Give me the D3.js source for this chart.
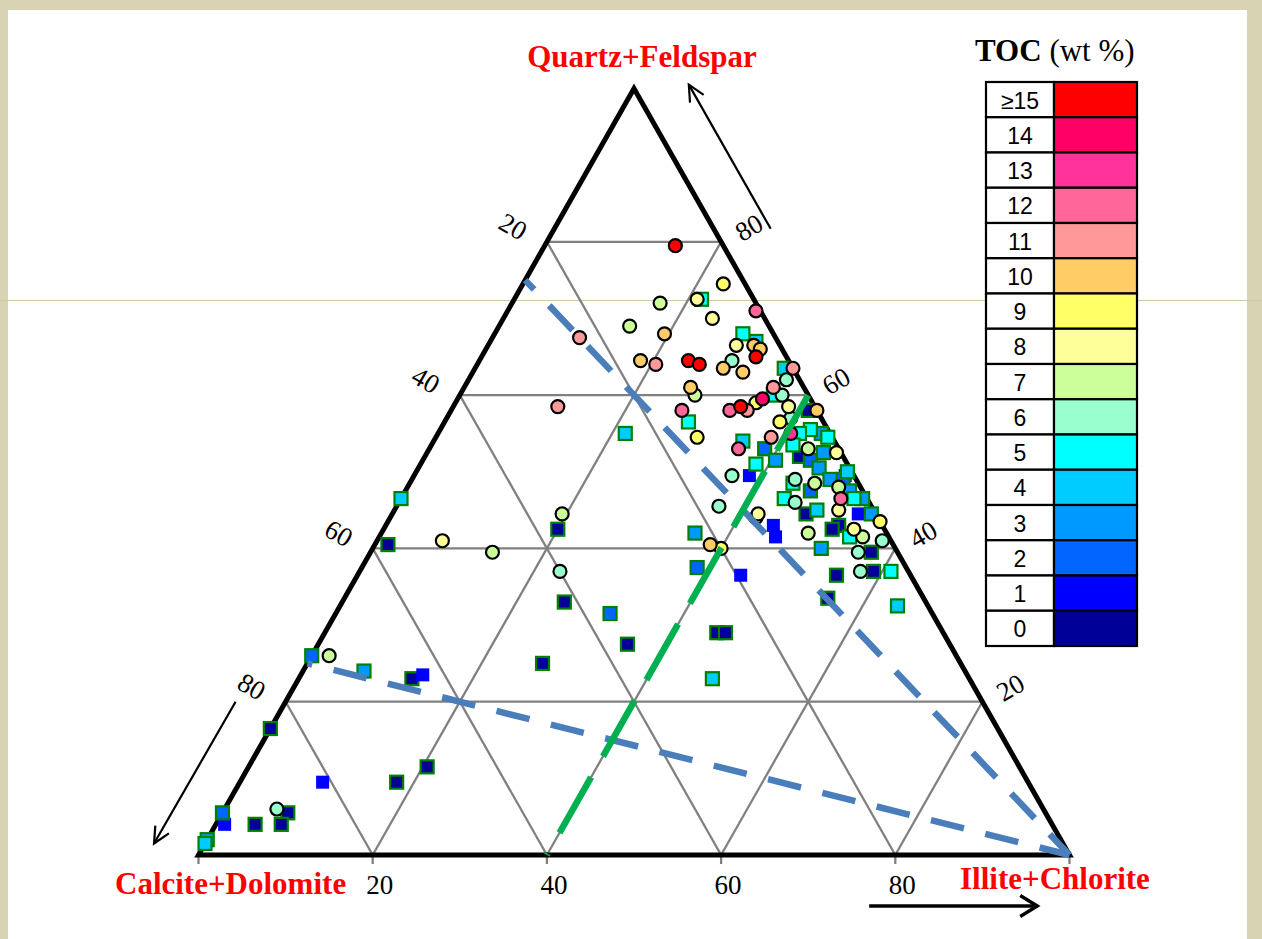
<!DOCTYPE html>
<html>
<head>
<meta charset="utf-8">
<script src="https://cdn.jsdelivr.net/npm/d3@7"></script>
<style>
  html, body { margin: 0; padding: 0; background: #d7d3b3; }
  svg { display: block; }
</style>
</head>
<body>
<svg id="chart" width="1262" height="939"></svg>
<script>
// ---- Sample compositions: [quartz+feldspar, calcite+dolomite, illite+chlorite, TOC wt%] ----
// Circle-symbol samples
const circleSamples = [
  [79.5, 5.5, 15, 15], [74.5, 2.5, 23, 9], [72.5, 6.5, 21, 8], [70, 6, 24, 8],
  [72, 11, 17, 7], [69, 16, 15, 7], [68, 12.5, 19.5, 10], [71, 0.5, 28.5, 12],
  [67.5, 22.5, 10, 11], [66.5, 5, 28.5, 8], [66.5, 3, 30.5, 10], [66, 2.5, 31.5, 10],
  [65, 3.5, 31.5, 15], [64.5, 11.5, 24, 15], [64, 10.5, 25.5, 15], [64.5, 17, 18.5, 10],
  [64, 15.5, 20.5, 11], [64.5, 6.5, 29, 6], [63.5, 8, 28.5, 10], [63, 6, 31, 10],
  [63.5, 0, 36.5, 11], [62, 1.5, 36.5, 6], [61, 13, 26, 10], [60, 13, 27, 7],
  [61, 3.5, 35.5, 11], [60, 3, 37, 6], [58.5, 3, 38.5, 8], [59, 6.5, 34.5, 9],
  [59.5, 5.5, 35, 14], [58, 10, 32, 12], [58.5, 8.5, 33, 15], [58, 8, 34, 11],
  [58, 15.5, 26.5, 12], [58.5, 29.5, 12, 11], [54.5, 15.5, 30, 9], [56.5, 5, 38.5, 9],
  [54.5, 7, 38.5, 11], [55, 4.5, 40.5, 13], [58, 0, 42, 10], [57, 3.5, 39.5, 6],
  [53, 11.5, 35.5, 12], [53, 3.5, 43.5, 7], [52.5, 0.5, 47, 8], [49, 7, 44, 6],
  [48.5, 5, 46.5, 7], [48, 2.5, 49.5, 7], [46, 8.5, 45.5, 6], [46.5, 3, 50.5, 12],
  [45, 4, 51, 8], [43.5, 0, 56.5, 9], [42.5, 3.5, 54, 8], [42, 9, 49, 7],
  [41.5, 3, 55.5, 7], [41, 1, 58, 6], [39.5, 4.5, 56, 6], [37, 5.5, 57.5, 6],
  [49.5, 14, 36.5, 6], [45.5, 17.5, 37, 6], [44, 14, 42, 7], [44.5, 13.5, 42, 8],
  [40.5, 21, 38.5, 10], [40, 20, 40, 9], [44.5, 36, 19.5, 7], [41, 51.5, 7.5, 8],
  [39.5, 46.5, 14, 7], [37, 40, 23, 6], [26, 72, 2, 7], [6, 88, 6, 6]
];

// Square-symbol samples
const squareSamples = [
  [72.5, 6, 21.5, 5], [68, 3.5, 28.5, 5], [67, 2.5, 30.5, 4], [63.5, 1, 35.5, 4],
  [60, 4, 36, 5], [56.5, 15.5, 28, 5], [58, 1, 41, 0], [54, 10.5, 35.5, 4],
  [53, 8.5, 38.5, 2], [51.5, 8, 40.5, 3], [51, 10.5, 38.5, 5], [49.5, 12, 38.5, 1],
  [55.5, 2, 42.5, 5], [55, 1, 44, 3], [54.5, 0.5, 45, 5], [55, 3.5, 41.5, 5],
  [53.5, 5, 41.5, 5], [52.5, 2, 45.5, 3], [52, 5, 43, 0], [51.5, 4, 44.5, 2],
  [50.5, 3.5, 46, 3], [50, 0.5, 49.5, 4], [49.5, 1, 49.5, 1], [48.5, 7.5, 44, 5],
  [49, 3, 48, 3], [49, 1.5, 49.5, 2], [47.5, 6, 46.5, 2], [46.5, 9.5, 44, 5],
  [46.5, 1.5, 52, 5], [46.5, 0.5, 53, 3], [47.5, 1.5, 51, 3], [45, 6.5, 48.5, 4],
  [44.5, 8, 47.5, 0], [44.5, 2, 53.5, 1], [44.5, 0.5, 55, 3], [43, 5, 52, 0],
  [42.5, 6, 51.5, 0], [41.5, 4.5, 54, 5], [39.5, 3, 57.5, 0], [40, 8.5, 51.5, 3],
  [37, 4, 59, 0], [37, 2, 61, 5], [36.5, 8.5, 55, 0], [33.5, 11, 55.5, 0],
  [32.5, 3.5, 64, 4], [43, 12.5, 44.5, 1], [41.5, 13, 45.5, 1], [36.5, 19.5, 44, 1],
  [55, 23.5, 21.5, 4], [46.5, 53.5, 0, 4], [42.5, 37.5, 20, 0], [40.5, 58, 1.5, 0],
  [33, 41.5, 25.5, 0], [31.5, 37, 31.5, 2], [27.5, 37, 35.5, 0], [25, 48, 27, 0],
  [42, 22, 36, 3], [37.5, 24, 38.5, 2], [29, 26, 45, 0], [29, 25, 46, 0],
  [23, 29.5, 47.5, 4], [26, 74, 0, 2], [24, 69, 7, 3], [23, 64, 13, 0],
  [23.5, 62.5, 14, 1], [16.5, 83.5, 0, 0], [9.5, 81, 9.5, 1], [9.5, 72.5, 18, 0],
  [11.5, 68, 20.5, 0], [5.5, 94.5, 0, 2], [4, 95, 1, 1], [4, 91.5, 4.5, 0],
  [5.5, 87, 7.5, 0], [4, 88.5, 7.5, 0], [1.5, 98.5, 0, 4], [2, 98, 0, 3]
];

// ---- TOC classes (ascending) ----
const tocLabels = ["0", "1", "2", "3", "4", "5", "6", "7", "8", "9", "10", "11", "12", "13", "14", "\u226515"];
const tocColors = ["#000099", "#0000FF", "#0066FF", "#0099FF", "#00CCFF", "#00FFFF", "#99FFCC", "#CCFF99",
                   "#FFFF99", "#FFFF66", "#FFCC66", "#FF9999", "#FF6699", "#FF3399", "#FF0066", "#FF0000"];
const tocBreaks = [1, 2, 3, 4, 5, 6, 7, 8, 9, 10, 11, 12, 13, 14, 15];

// ---- Axis ticks and titles ----
const gridValues = [20, 40, 60, 80];
const baseTicks = [0, 20, 40, 60, 80, 100];
const apexTitles = { top: "Quartz+Feldspar", left: "Calcite+Dolomite", right: "Illite+Chlorite" };

// ---- Guide lines (ternary end points as [quartz+feldspar, illite+chlorite]) ----
const qfCarbRatioLines = [
  { from: [75, 0], to: [0, 100], offset: 21 },
  { from: [25, 0], to: [0, 100], offset: 29 }
];
const clayLine = { from: [0, 40], to: [60, 40], offset: 62.5 };

const W = 1262, H = 939;
const svg = d3.select("#chart");

// Ternary projection: bottom edge = illite+chlorite (0 -> 100), apex = quartz+feldspar
const xScale = d3.scaleLinear().domain([0, 100]).range([198.5, 1069.5]);
const yScale = d3.scaleLinear().domain([0, 100]).range([855, 88.5]);
const pt = (qf, clay) => [xScale(clay + qf / 2), yScale(qf)];
const tocColor = d3.scaleThreshold().domain(tocBreaks).range(tocColors);

// Slide background
svg.append("rect").attr("width", W).attr("height", H).attr("fill", "#d7d3b3");
svg.append("rect").attr("x", 8).attr("y", 10).attr("width", 1239).attr("height", 929).attr("fill", "#ffffff");
svg.append("line").attr("x1", 0).attr("x2", W).attr("y1", 300.5).attr("y2", 300.5)
  .attr("stroke", "#cdc9a6").attr("stroke-width", 1);

const line = d3.line();

// Grid
const gridG = svg.append("g").attr("stroke", "#808080").attr("stroke-width", 2.3).attr("fill", "none");
gridValues.forEach(v => {
  gridG.append("path").attr("d", line([pt(v, 0), pt(v, 100 - v)]));
  gridG.append("path").attr("d", line([pt(0, v), pt(100 - v, v)]));
  gridG.append("path").attr("d", line([pt(0, 100 - v), pt(100 - v, 0)]));
});
// Base ticks
baseTicks.forEach(v => {
  gridG.append("path").attr("d", line([[xScale(v), yScale(0)], [xScale(v), yScale(0) + 9]]));
});

// Triangle outline
svg.append("path")
  .attr("d", line([pt(100, 0), pt(0, 0), pt(0, 100)]) + "Z")
  .attr("fill", "none").attr("stroke", "#000").attr("stroke-width", 5);

// Square samples (drawn in ascending TOC)
const sq = 13;
svg.append("g").selectAll("rect")
  .data(d3.sort(squareSamples, d => d[3]))
  .join("rect")
  .attr("x", d => pt(d[0], d[2])[0] - sq / 2)
  .attr("y", d => pt(d[0], d[2])[1] - sq / 2)
  .attr("width", sq).attr("height", sq)
  .attr("fill", d => tocColor(d[3]))
  .attr("stroke", d => d[3] >= 1 && d[3] < 2 ? "none" : "#008000")
  .attr("stroke-width", 2.2);

// Circle samples (drawn in ascending TOC)
svg.append("g").selectAll("circle")
  .data(d3.sort(circleSamples, d => d[3]))
  .join("circle")
  .attr("cx", d => pt(d[0], d[2])[0])
  .attr("cy", d => pt(d[0], d[2])[1])
  .attr("r", 6.5)
  .attr("fill", d => tocColor(d[3]))
  .attr("stroke", "#000").attr("stroke-width", 2.2);

// Dashed guide lines
qfCarbRatioLines.forEach(g => {
  svg.append("path")
    .attr("d", line([pt(...g.from), pt(...g.to)]))
    .attr("fill", "none").attr("stroke", "#4a7ebb").attr("stroke-width", 6.5)
    .attr("stroke-dasharray", "34 22").attr("stroke-dashoffset", g.offset);
});
svg.append("path")
  .attr("d", line([pt(...clayLine.from), pt(...clayLine.to)]))
  .attr("fill", "none").attr("stroke", "#00b050").attr("stroke-width", 6.5)
  .attr("stroke-dasharray", "64 24").attr("stroke-dashoffset", clayLine.offset);

// Tick labels
const serif = "'Liberation Serif', 'Times New Roman', serif";
const tickG = svg.append("g").attr("font-family", serif).attr("font-size", 27).attr("fill", "#000")
  .attr("text-anchor", "middle").attr("dominant-baseline", "central");
gridValues.forEach(v => {
  // calcite+dolomite along left edge
  const [lx, ly] = pt(100 - v, 0);
  tickG.append("text").attr("transform", `translate(${lx - 34},${ly - 15}) rotate(30)`).text(v);
  // quartz+feldspar along right edge
  const [rx, ry] = pt(v, 100 - v);
  tickG.append("text").attr("transform", `translate(${rx + 28},${ry - 14}) rotate(-30)`).text(v);
  // illite+chlorite along base
  tickG.append("text").attr("x", xScale(v) + 7).attr("y", yScale(0) + 30).text(v);
});

// Apex titles
const titleG = svg.append("g").attr("font-family", serif).attr("font-size", 31)
  .attr("font-weight", "bold").attr("fill", "#ff0000");
titleG.append("text").attr("x", 642).attr("y", 67).attr("text-anchor", "middle").text(apexTitles.top);
titleG.append("text").attr("x", 115).attr("y", 894).text(apexTitles.left);
titleG.append("text").attr("x", 960).attr("y", 889).text(apexTitles.right);

// Direction arrows
function arrow(p0, p1, width, headLen, headAng) {
  const a = Math.atan2(p1[1] - p0[1], p1[0] - p0[0]);
  const h1 = [p1[0] - headLen * Math.cos(a - headAng), p1[1] - headLen * Math.sin(a - headAng)];
  const h2 = [p1[0] - headLen * Math.cos(a + headAng), p1[1] - headLen * Math.sin(a + headAng)];
  const g = svg.append("g").attr("fill", "none").attr("stroke", "#000").attr("stroke-width", width);
  g.append("path").attr("d", line([p0, p1]));
  g.append("path").attr("d", line([h1, p1, h2]));
}
const shift = (p, dx, dy) => [p[0] + dx, p[1] + dy];
arrow(shift(pt(81.7, 18.3), 57, 0), shift(pt(100.5, -0.5), 57, 0), 2.2, 18, 0.45);
arrow(shift(pt(20, 0), -50, 0), shift(pt(1.5, 0), -51, 0), 2.2, 18, 0.45);
arrow([xScale(77), yScale(0) + 51], [xScale(96.3), yScale(0) + 51], 3.4, 20, 0.55);

// Legend
const lg = svg.append("g");
lg.append("text").attr("x", 975).attr("y", 61).attr("font-family", serif).attr("font-size", 31)
  .call(t => {
    t.append("tspan").attr("font-weight", "bold").text("TOC");
    t.append("tspan").text(" (wt %)");
  });
const legX = 986, legMid = 1054, legR = 1137, legTop = 82, rowH = 35.25;
const rows = d3.range(tocLabels.length).reverse();
rows.forEach((k, i) => {
  const y = legTop + i * rowH;
  lg.append("rect").attr("x", legX).attr("y", y).attr("width", legMid - legX).attr("height", rowH)
    .attr("fill", "#fff").attr("stroke", "#000").attr("stroke-width", 2.2);
  lg.append("rect").attr("x", legMid).attr("y", y).attr("width", legR - legMid).attr("height", rowH)
    .attr("fill", tocColors[k]).attr("stroke", "#000").attr("stroke-width", 2.2);
  lg.append("text").attr("x", (legX + legMid) / 2).attr("y", y + rowH / 2 + 1)
    .attr("text-anchor", "middle").attr("dominant-baseline", "central")
    .attr("font-family", "'Liberation Sans', Arial, sans-serif").attr("font-size", 23)
    .text(tocLabels[k]);
});
</script>
</body>
</html>
